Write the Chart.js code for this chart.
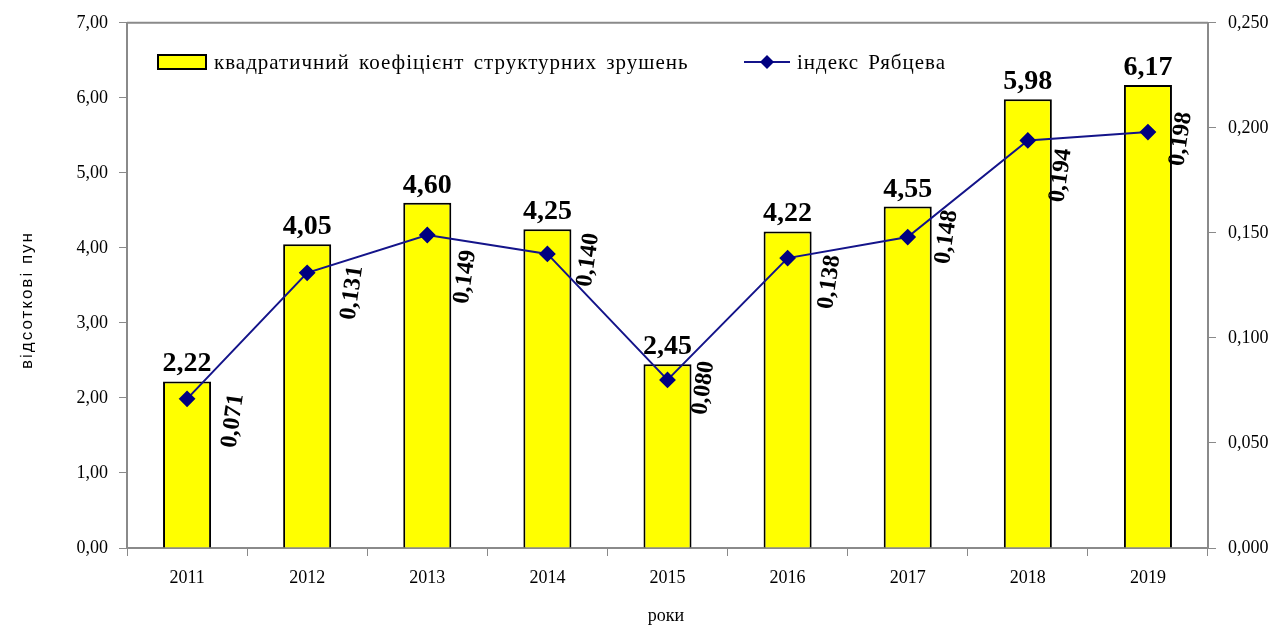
<!DOCTYPE html>
<html>
<head>
<meta charset="utf-8">
<script src="https://cdn.jsdelivr.net/npm/chart.js@4.4.1/dist/chart.umd.min.js"></script>
<style>
    body { margin: 0; background: #fff; }
    #wrap { width: 1280px; height: 628px; }
</style>
</head>
<body>
<div id="wrap"><canvas id="barLine"></canvas></div>
<script>
    // values
    var years = ["2011", "2012", "2013", "2014", "2015", "2016", "2017", "2018", "2019"];
    var kvadrKoef = [2.22, 4.05, 4.60, 4.25, 2.45, 4.22, 4.55, 5.98, 6.17];
    var indexRyab = [0.071, 0.131, 0.149, 0.140, 0.080, 0.138, 0.148, 0.194, 0.198];

    // where the rotated line labels sit, relative to their point (px)
    var lineLabelShift = [[46, 22], [45, 20], [38, 42], [41, 6], [36, 8], [42, 24], [39, 0], [33, 35], [33, 7]];

    var serif = "'Liberation Serif', 'Times New Roman', serif";
    var axisGray = "#8a8a8a";
    var navy = "#14148a";

    function comma(v, d) {
        return v.toFixed(d).replace(".", ",");
    }

    // frame, legend, titles and value labels drawn on top
    var extras = {
        id: "extras",
        afterDatasetsDraw: function (chart) {
            var c = chart.ctx;
            var a = chart.chartArea;
            c.save();

            // top edge of plot frame
            c.strokeStyle = axisGray;
            c.lineWidth = 2;
            c.beginPath();
            c.moveTo(a.left, a.top);
            c.lineTo(a.right, a.top);
            c.stroke();

            // bar values
            c.fillStyle = "#000";
            c.font = "bold 28px " + serif;
            c.textAlign = "center";
            c.textBaseline = "alphabetic";
            chart.getDatasetMeta(1).data.forEach(function (bar, i) {
                c.fillText(comma(kvadrKoef[i], 2), bar.x, bar.y - 10);
            });

            // line values, rotated
            c.font = "bold 24px " + serif;
            c.textBaseline = "middle";
            chart.getDatasetMeta(0).data.forEach(function (pt, i) {
                c.save();
                c.translate(pt.x + lineLabelShift[i][0], pt.y + lineLabelShift[i][1]);
                c.rotate(-82 * Math.PI / 180);
                c.fillText(comma(indexRyab[i], 3), 0, 0);
                c.restore();
            });

            // legend
            c.fillStyle = "#ffff00";
            c.fillRect(158, 55, 48, 14);
            c.strokeStyle = "#000";
            c.lineWidth = 2;
            c.strokeRect(158, 55, 48, 14);
            c.fillStyle = "#000";
            c.font = "21px " + serif;
            c.wordSpacing = "3px";
            c.letterSpacing = "1px";
            c.textAlign = "left";
            c.textBaseline = "middle";
            c.fillText("квадратичний коефіцієнт структурних зрушень", 214, 63);

            c.strokeStyle = navy;
            c.lineWidth = 2;
            c.beginPath();
            c.moveTo(744, 62);
            c.lineTo(790, 62);
            c.stroke();
            c.fillStyle = "#000080";
            c.beginPath();
            c.moveTo(767, 55);
            c.lineTo(774, 62);
            c.lineTo(767, 69);
            c.lineTo(760, 62);
            c.closePath();
            c.fill();
            c.fillStyle = "#000";
            c.fillText("індекс Рябцева", 797, 63);
            c.wordSpacing = "0px";
            c.letterSpacing = "0px";

            // axis titles
            c.textAlign = "center";
            c.font = "18px " + serif;
            c.fillText("роки", 666, 616);

            c.save();
            c.translate(27, 300);
            c.rotate(-Math.PI / 2);
            c.font = "17px 'Liberation Sans', Arial, sans-serif";
            c.letterSpacing = "2px";
            c.fillText("відсоткові пун", 0, 0);
            c.restore();

            c.restore();
        }
    };

    var ctx = document.getElementById("barLine");
    var myChart = new Chart(ctx, {
        type: "bar",
        data: {
            labels: years,
            datasets: [{
                type: "line",
                label: "індекс Рябцева",
                data: indexRyab,
                yAxisID: "y1",
                borderColor: navy,
                borderWidth: 2,
                pointStyle: "rectRot",
                pointRadius: 7,
                pointBackgroundColor: "#000080",
                pointBorderColor: "#000080",
                tension: 0,
                order: 1
            }, {
                label: "квадратичний коефіцієнт структурних зрушень",
                data: kvadrKoef,
                yAxisID: "y",
                backgroundColor: "#ffff00",
                borderColor: "#000",
                borderWidth: 2,
                barPercentage: 0.4,
                categoryPercentage: 1,
                order: 2
            }]
        },
        options: {
            responsive: true,
            maintainAspectRatio: false,
            animation: false,
            layout: { padding: { top: 22, left: 0, right: 0, bottom: 0 } },
            plugins: {
                legend: { display: false },
                tooltip: { enabled: false }
            },
            scales: {
                x: {
                    afterFit: function (s) { s.height = 80; },
                    grid: { drawOnChartArea: false, offset: true, tickLength: 8, color: axisGray },
                    border: { color: axisGray, width: 2 },
                    ticks: { color: "#000", padding: 11, font: { family: serif, size: 18 } }
                },
                y: {
                    position: "left",
                    min: 0,
                    max: 7,
                    afterFit: function (s) { s.width = 127; },
                    grid: { drawOnChartArea: false, tickLength: 8, color: axisGray },
                    border: { color: axisGray, width: 2 },
                    ticks: {
                        stepSize: 1,
                        color: "#000",
                        padding: 11,
                        font: { family: serif, size: 18 },
                        callback: function (v) { return comma(v, 2); }
                    }
                },
                y1: {
                    position: "right",
                    min: 0,
                    max: 0.25,
                    afterFit: function (s) { s.width = 72; },
                    grid: { drawOnChartArea: false, tickLength: 8, color: axisGray },
                    border: { color: axisGray, width: 2 },
                    ticks: {
                        stepSize: 0.05,
                        color: "#000",
                        padding: 12,
                        font: { family: serif, size: 18 },
                        callback: function (v) { return comma(v, 3); }
                    }
                }
            }
        },
        plugins: [extras]
    });
</script>
</body>
</html>
